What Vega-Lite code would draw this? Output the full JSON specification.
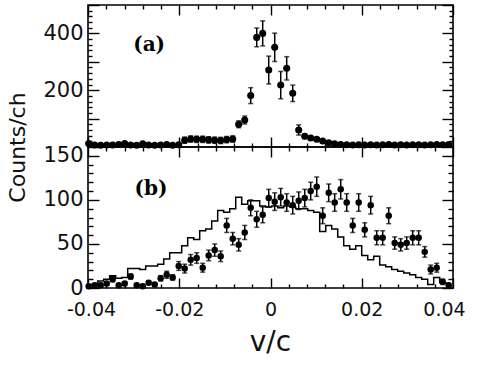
{
  "$schema": "https://vega.github.io/schema/vega-lite/v6.json",
  "background": "white",
  "padding": {"left": 5, "top": 3, "right": 16, "bottom": 5},
  "spacing": 0,
  "bounds": "flush",
  "config": {
    "view": {"stroke": "black", "strokeWidth": 1.6},
    "axis": {"domain": false, "grid": false, "tickColor": "black", "tickWidth": 1.4, "labelColor": "#111", "titleColor": "#111"}
  },
  "datasets": {
    "a": [
      {"v": -0.03985, "c": 12, "e": 4}, {"v": -0.03853, "c": 7, "e": 3}, {"v": -0.03722, "c": 6, "e": 3},
      {"v": -0.03590, "c": 7, "e": 3}, {"v": -0.03459, "c": 7, "e": 3}, {"v": -0.03327, "c": 9, "e": 3},
      {"v": -0.03196, "c": 12, "e": 3}, {"v": -0.03064, "c": 7, "e": 3}, {"v": -0.02933, "c": 6, "e": 3},
      {"v": -0.02801, "c": 11, "e": 3}, {"v": -0.02670, "c": 7, "e": 3}, {"v": -0.02538, "c": 6, "e": 3},
      {"v": -0.02407, "c": 7, "e": 3}, {"v": -0.02275, "c": 9, "e": 3}, {"v": -0.02144, "c": 6, "e": 3},
      {"v": -0.02012, "c": 8, "e": 3}, {"v": -0.01881, "c": 24, "e": 11}, {"v": -0.01749, "c": 28, "e": 11},
      {"v": -0.01618, "c": 27, "e": 11}, {"v": -0.01486, "c": 27, "e": 11}, {"v": -0.01355, "c": 25, "e": 11},
      {"v": -0.01223, "c": 24, "e": 11}, {"v": -0.01092, "c": 23, "e": 11}, {"v": -0.00960, "c": 26, "e": 11},
      {"v": -0.00828, "c": 28, "e": 11}, {"v": -0.00697, "c": 80, "e": 12}, {"v": -0.00565, "c": 95, "e": 14},
      {"v": -0.00434, "c": 181, "e": 28}, {"v": -0.00302, "c": 386, "e": 33}, {"v": -0.00171, "c": 400, "e": 44},
      {"v": -0.00039, "c": 271, "e": 49}, {"v": 0.00092, "c": 351, "e": 50}, {"v": 0.00224, "c": 218, "e": 48},
      {"v": 0.00355, "c": 277, "e": 41}, {"v": 0.00487, "c": 189, "e": 29}, {"v": 0.00618, "c": 60, "e": 18},
      {"v": 0.00750, "c": 38, "e": 8}, {"v": 0.00881, "c": 32, "e": 7}, {"v": 0.01013, "c": 27, "e": 6},
      {"v": 0.01144, "c": 21, "e": 5}, {"v": 0.01276, "c": 15, "e": 5}, {"v": 0.01407, "c": 11, "e": 4},
      {"v": 0.01539, "c": 9, "e": 3}, {"v": 0.01670, "c": 8, "e": 3}, {"v": 0.01802, "c": 7, "e": 3},
      {"v": 0.01933, "c": 8, "e": 3}, {"v": 0.02065, "c": 7, "e": 3}, {"v": 0.02196, "c": 8, "e": 3},
      {"v": 0.02328, "c": 7, "e": 3}, {"v": 0.02459, "c": 8, "e": 3}, {"v": 0.02591, "c": 9, "e": 3},
      {"v": 0.02722, "c": 7, "e": 3}, {"v": 0.02854, "c": 8, "e": 3}, {"v": 0.02985, "c": 7, "e": 3},
      {"v": 0.03117, "c": 8, "e": 3}, {"v": 0.03248, "c": 8, "e": 3}, {"v": 0.03380, "c": 7, "e": 3},
      {"v": 0.03511, "c": 8, "e": 3}, {"v": 0.03643, "c": 9, "e": 3}, {"v": 0.03774, "c": 8, "e": 3},
      {"v": 0.03906, "c": 9, "e": 3}
    ],
    "b": [
      {"v": -0.03985, "c": 2, "e": 2, "h": 3}, {"v": -0.03853, "c": 3, "e": 2, "h": 4}, {"v": -0.03722, "c": 3, "e": 2, "h": 8},
      {"v": -0.03590, "c": 5, "e": 2, "h": 10}, {"v": -0.03459, "c": 10, "e": 3, "h": 14}, {"v": -0.03327, "c": 3, "e": 2, "h": 11},
      {"v": -0.03196, "c": 5, "e": 2, "h": 12}, {"v": -0.03064, "c": 13, "e": 3, "h": 22}, {"v": -0.02933, "c": 3, "e": 2, "h": 22},
      {"v": -0.02801, "c": 2, "e": 2, "h": 21}, {"v": -0.02670, "c": 6, "e": 2, "h": 25}, {"v": -0.02538, "c": 4, "e": 2, "h": 25},
      {"v": -0.02407, "c": 11, "e": 3, "h": 27}, {"v": -0.02275, "c": 15, "e": 4, "h": 33}, {"v": -0.02144, "c": 12, "e": 3, "h": 40},
      {"v": -0.02012, "c": 25, "e": 5, "h": 40}, {"v": -0.01881, "c": 22, "e": 5, "h": 48}, {"v": -0.01749, "c": 32, "e": 6, "h": 57},
      {"v": -0.01618, "c": 34, "e": 6, "h": 55}, {"v": -0.01486, "c": 23, "e": 5, "h": 65}, {"v": -0.01355, "c": 37, "e": 6, "h": 67},
      {"v": -0.01223, "c": 43, "e": 7, "h": 76}, {"v": -0.01092, "c": 36, "e": 6, "h": 88}, {"v": -0.00960, "c": 71, "e": 8, "h": 86},
      {"v": -0.00828, "c": 56, "e": 7, "h": 90}, {"v": -0.00697, "c": 49, "e": 7, "h": 103}, {"v": -0.00565, "c": 63, "e": 8, "h": 95},
      {"v": -0.00434, "c": 91, "e": 9, "h": 99}, {"v": -0.00302, "c": 78, "e": 9, "h": 99}, {"v": -0.00171, "c": 83, "e": 9, "h": 93},
      {"v": -0.00039, "c": 102, "e": 10, "h": 92}, {"v": 0.00092, "c": 98, "e": 10, "h": 93}, {"v": 0.00224, "c": 103, "e": 10, "h": 91},
      {"v": 0.00355, "c": 97, "e": 10, "h": 93}, {"v": 0.00487, "c": 94, "e": 10, "h": 92}, {"v": 0.00618, "c": 99, "e": 10, "h": 90},
      {"v": 0.00750, "c": 102, "e": 10, "h": 90}, {"v": 0.00881, "c": 110, "e": 10, "h": 88}, {"v": 0.01013, "c": 115, "e": 11, "h": 86},
      {"v": 0.01144, "c": 82, "e": 9, "h": 64}, {"v": 0.01276, "c": 108, "e": 10, "h": 71}, {"v": 0.01407, "c": 97, "e": 10, "h": 67},
      {"v": 0.01539, "c": 112, "e": 11, "h": 58}, {"v": 0.01670, "c": 97, "e": 10, "h": 48}, {"v": 0.01802, "c": 71, "e": 8, "h": 44},
      {"v": 0.01933, "c": 97, "e": 10, "h": 48}, {"v": 0.02065, "c": 66, "e": 8, "h": 37}, {"v": 0.02196, "c": 94, "e": 10, "h": 32},
      {"v": 0.02328, "c": 57, "e": 8, "h": 36}, {"v": 0.02459, "c": 57, "e": 8, "h": 26}, {"v": 0.02591, "c": 82, "e": 9, "h": 24},
      {"v": 0.02722, "c": 51, "e": 7, "h": 21}, {"v": 0.02854, "c": 49, "e": 7, "h": 19}, {"v": 0.02985, "c": 51, "e": 7, "h": 17},
      {"v": 0.03117, "c": 57, "e": 8, "h": 15}, {"v": 0.03248, "c": 57, "e": 8, "h": 12}, {"v": 0.03380, "c": 41, "e": 6, "h": 10},
      {"v": 0.03511, "c": 21, "e": 5, "h": 4}, {"v": 0.03643, "c": 23, "e": 5, "h": 12}, {"v": 0.03774, "c": 7, "e": 3, "h": 6},
      {"v": 0.03906, "c": 3, "e": 2, "h": 5}
    ]
  },
  "vconcat": [
    {
      "width": 365,
      "height": 142,
      "resolve": {"axis": {"x": "independent", "y": "independent"}},
      "layer": [
        {
          "data": {"name": "a"},
          "mark": {"type": "errorbar", "color": "black", "thickness": 1.5, "ticks": {"size": 5, "thickness": 1.5}},
          "encoding": {
            "x": {"field": "v", "type": "quantitative", "scale": {"domain": [-0.04, 0.04]},
              "axis": {"orient": "top", "title": null, "labels": false,
                "values": [-0.04,-0.036,-0.032,-0.028,-0.024,-0.02,-0.016,-0.012,-0.008,-0.004,0,0.004,0.008,0.012,0.016,0.02,0.024,0.028,0.032,0.036,0.04],
                "tickSize": {"condition": {"test": "abs(datum.value*50-round(datum.value*50))<0.01", "value": -10}, "value": -4}}},
            "y": {"field": "c", "type": "quantitative", "scale": {"domain": [0, 500]},
              "axis": {"orient": "right", "title": null, "labels": false,
                "values": [0,20,40,60,80,100,120,140,160,180,200,220,240,260,280,300,320,340,360,380,400,420,440,460,480,500],
                "tickSize": {"condition": {"test": "datum.value % 100 === 0", "value": -11}, "value": -4}}},
            "yError": {"field": "e"}
          }
        },
        {
          "data": {"name": "a"},
          "mark": {"type": "point", "filled": true, "size": 50, "color": "black", "opacity": 1},
          "encoding": {
            "x": {"field": "v", "type": "quantitative", "scale": {"domain": [-0.04, 0.04]},
              "axis": {"orient": "bottom", "title": null, "labels": false,
                "values": [-0.04,-0.036,-0.032,-0.028,-0.024,-0.02,-0.016,-0.012,-0.008,-0.004,0,0.004,0.008,0.012,0.016,0.02,0.024,0.028,0.032,0.036,0.04],
                "tickSize": {"condition": {"test": "abs(datum.value*50-round(datum.value*50))<0.01", "value": -10}, "value": -4}}},
            "y": {"field": "c", "type": "quantitative", "scale": {"domain": [0, 500]},
              "axis": {"orient": "left", "title": null, "labelOverlap": false,
                "values": [0,20,40,60,80,100,120,140,160,180,200,220,240,260,280,300,320,340,360,380,400,420,440,460,480,500],
                "labelExpr": "datum.value === 200 || datum.value === 400 ? datum.label : ''",
                "labelFont": "DejaVu Sans", "labelPadding": 16,
                "labelFontSize": {"condition": {"test": "datum.value === 200 || datum.value === 400", "value": 21}, "value": 0},
                "tickSize": {"condition": {"test": "datum.value % 100 === 0", "value": -11}, "value": -4}}}
          }
        },
        {
          "data": {"values": [{}]},
          "mark": {"type": "text", "text": "(a)", "font": "DejaVu Serif", "fontWeight": "bold", "fontSize": 20, "color": "black"},
          "encoding": {
            "x": {"datum": -0.0266, "type": "quantitative", "axis": null},
            "y": {"datum": 359, "type": "quantitative", "axis": null}
          }
        }
      ]
    },
    {
      "width": 365,
      "height": 141,
      "resolve": {"axis": {"x": "independent", "y": "independent"}},
      "layer": [
        {
          "data": {"name": "b"},
          "mark": {"type": "line", "interpolate": "step", "color": "black", "strokeWidth": 1.5},
          "encoding": {
            "x": {"field": "v", "type": "quantitative", "scale": {"domain": [-0.04, 0.04]}, "axis": null},
            "y": {"field": "h", "type": "quantitative", "scale": {"domain": [0, 150]}, "axis": null}
          }
        },
        {
          "data": {"name": "b"},
          "mark": {"type": "errorbar", "color": "black", "thickness": 1.5, "ticks": {"size": 5, "thickness": 1.5}},
          "encoding": {
            "x": {"field": "v", "type": "quantitative", "scale": {"domain": [-0.04, 0.04]},
              "axis": {"orient": "top", "title": null, "labels": false,
                "values": [-0.04,-0.036,-0.032,-0.028,-0.024,-0.02,-0.016,-0.012,-0.008,-0.004,0,0.004,0.008,0.012,0.016,0.02,0.024,0.028,0.032,0.036,0.04],
                "tickSize": {"condition": {"test": "abs(datum.value*50-round(datum.value*50))<0.01", "value": -10}, "value": -4}}},
            "y": {"field": "c", "type": "quantitative", "scale": {"domain": [0, 150]},
              "axis": {"orient": "right", "title": null, "labels": false,
                "values": [0,10,20,30,40,50,60,70,80,90,100,110,120,130,140,150],
                "tickSize": {"condition": {"test": "datum.value % 50 === 0", "value": -11}, "value": -5}}},
            "yError": {"field": "e"}
          }
        },
        {
          "data": {"name": "b"},
          "mark": {"type": "point", "filled": true, "size": 42, "color": "black", "opacity": 1},
          "encoding": {
            "x": {"field": "v", "type": "quantitative", "scale": {"domain": [-0.04, 0.04]},
              "axis": {"orient": "bottom", "labelOverlap": false, "labelFlush": false,
                "values": [-0.04,-0.036,-0.032,-0.028,-0.024,-0.02,-0.016,-0.012,-0.008,-0.004,0,0.004,0.008,0.012,0.016,0.02,0.024,0.028,0.032,0.036,0.04],
                "labelExpr": "abs(datum.value*50-round(datum.value*50))<0.01 ? (abs(datum.value)<0.000001 ? '0' : (datum.value < 0 ? '-' : '') + format(abs(datum.value), '.2f')) : ''",
                "labelFont": "DejaVu Sans", "labelFontSize": 19, "labelBaseline": "alphabetic", "labelPadding": 37,
                "labelOffset": {"condition": [{"test": "datum.value > 0.039", "value": -9}, {"test": "datum.value < -0.039", "value": 3}], "value": 0},
                "tickSize": {"condition": {"test": "abs(datum.value*50-round(datum.value*50))<0.01", "value": -10}, "value": -4},
                "title": "v/c", "titleFont": "DejaVu Sans", "titleFontSize": 28, "titleFontWeight": "normal",
                "titleBaseline": "alphabetic", "titleY": 62, "titleX": 182}},
            "y": {"field": "c", "type": "quantitative", "scale": {"domain": [0, 150]},
              "axis": {"orient": "left", "labelOverlap": false,
                "values": [0,10,20,30,40,50,60,70,80,90,100,110,120,130,140,150],
                "labelExpr": "datum.value % 50 === 0 ? datum.label : ''",
                "labelFont": "DejaVu Sans", "labelPadding": 16,
                "labelFontSize": {"condition": {"test": "datum.value % 50 === 0", "value": 21}, "value": 0},
                "tickSize": {"condition": {"test": "datum.value % 50 === 0", "value": -11}, "value": -5},
                "title": "Counts/ch", "titleFont": "DejaVu Sans", "titleFontSize": 22, "titleFontWeight": "normal",
                "titleAngle": -90, "titleAlign": "center", "titleBaseline": "bottom", "titleX": -59, "titleY": 0}}
          }
        },
        {
          "data": {"values": [{}]},
          "mark": {"type": "text", "text": "(b)", "font": "DejaVu Serif", "fontWeight": "bold", "fontSize": 20, "color": "black"},
          "encoding": {
            "x": {"datum": -0.0262, "type": "quantitative", "axis": null},
            "y": {"datum": 112, "type": "quantitative", "axis": null}
          }
        }
      ]
    }
  ]
}
